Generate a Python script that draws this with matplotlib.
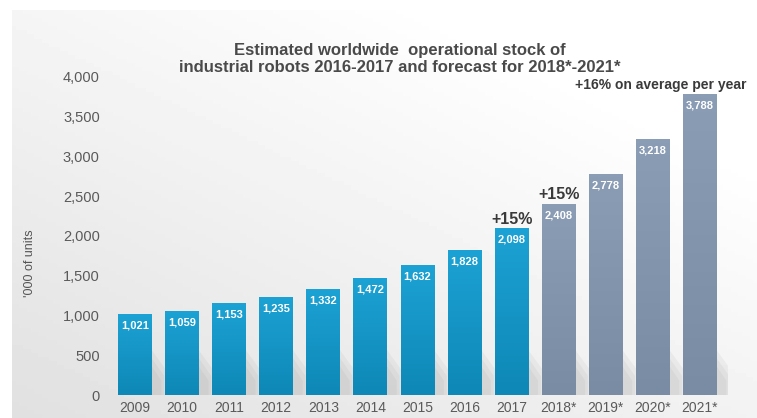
import numpy as np
import matplotlib
matplotlib.use("Agg")
import matplotlib.pyplot as plt
from matplotlib.patches import Polygon

# operational stock of industrial robots, thousands of units
years = ["2009", "2010", "2011", "2012", "2013", "2014", "2015", "2016", "2017",
         "2018*", "2019*", "2020*", "2021*"]
stock = [1021, 1059, 1153, 1235, 1332, 1472, 1632, 1828, 2098,
         2408, 2778, 3218, 3788]
is_forecast = [False] * 9 + [True] * 4
growth_labels = {"2017": "+15%", "2018*": "+15%"}
yticks = [0, 500, 1000, 1500, 2000, 2500, 3000, 3500, 4000]

plt.rcParams["font.family"] = ["Liberation Sans", "DejaVu Sans"]

fig = plt.figure(figsize=(7.57, 4.18), dpi=100)

# soft grey background panel, lighter toward the top right
bg = fig.add_axes([0.016, 0, 0.984, 0.975], zorder=-10)
gx = np.linspace(0, 1, 200)
gy = np.linspace(0, 1, 100)
X, Y = np.meshgrid(gx, gy)
shade = 0.88 + 0.07 * X + 0.08 * Y
bg.imshow(np.clip(shade, 0, 1), cmap="gray", vmin=0, vmax=1, aspect="auto",
          extent=[0, 1, 0, 1], origin="lower")
bg.axis("off")

ax = fig.add_axes([0.141, 0.055, 0.821, 0.761])
ax.set_facecolor("none")
x = np.arange(len(years))
colors = ["#8396ae" if f else "#1797c6" for f in is_forecast]
width = 0.72
bars = ax.bar(x, stock, width=width, color=colors, zorder=3)

# soft floor shadows to the right of each bar
for b in bars:
    r = b.get_x() + b.get_width()
    for k, a in enumerate([0.08, 0.08, 0.08]):
        d = 0.06 * k
        shadow = Polygon([(r - 0.05, 0), (r + 0.32 - d, 0), (r + 0.32 - d, 300 - 60 * k),
                          (r - 0.05, 600 - 100 * k)],
                         closed=True, facecolor="#808080", edgecolor="none",
                         alpha=a, zorder=2)
        ax.add_patch(shadow)

# vertical gradient inside each bar
for b, f in zip(bars, is_forecast):
    top = "#8a9db5" if f else "#1ca2d4"
    bot = "#7a8ca4" if f else "#0e88b6"
    cm = matplotlib.colors.LinearSegmentedColormap.from_list("g", [bot, top])
    grad = np.linspace(0, 1, 64).reshape(-1, 1)
    im = ax.imshow(grad, cmap=cm, aspect="auto", origin="lower", zorder=3,
                   extent=[b.get_x(), b.get_x() + b.get_width(), 0, b.get_height()])
    im.set_clip_path(b)

for xi, v in zip(x, stock):
    ax.text(xi, v - 145, f"{v:,}", ha="center", va="center", color="white",
            fontsize=8, fontweight="bold", zorder=5)

for yr, lab in growth_labels.items():
    i = years.index(yr)
    ax.text(i, stock[i] + 20, lab, ha="center", va="bottom", color="#3a3a3a",
            fontsize=11.5, fontweight="bold", zorder=5)

ax.text(12.98, 3900, "+16% on average per year", ha="right", va="center",
        color="#3a3a3a", fontsize=10, fontweight="bold", clip_on=False)

ax.set_xlim(-0.6, 12.6)
ax.set_ylim(0, 4000)
ax.set_xticks(x)
ax.set_xticklabels(years)
ax.set_yticks(yticks)
ax.set_yticklabels([f"{t:,}" for t in yticks])
ax.tick_params(axis="both", length=0, labelsize=10.5, colors="#5a5a5a")
ax.tick_params(axis="x", labelsize=10)
ax.tick_params(axis="y", pad=5)
ax.tick_params(axis="x", pad=4)
for s in ax.spines.values():
    s.set_visible(False)

fig.text(0.04, 0.37, "'000 of units", rotation=90, ha="center", va="center",
         color="#555555", fontsize=9)

fig.text(0.528, 0.858, "Estimated worldwide  operational stock of\nindustrial robots 2016-2017 and forecast for 2018*-2021*",
         ha="center", va="center", color="#4a4a4a", fontsize=12,
         fontweight="bold", linespacing=1.15)

fig.savefig("out.png", dpi=100)
